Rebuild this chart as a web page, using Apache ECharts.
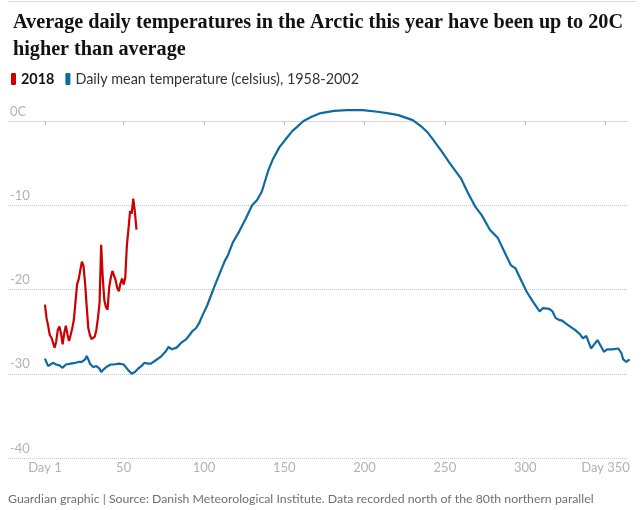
<!DOCTYPE html>
<html>
<head>
<meta charset="utf-8">
<script src="https://cdn.jsdelivr.net/npm/echarts@6/dist/echarts.min.js"></script>
<style>
  html, body { margin: 0; padding: 0; background: #fff; }
  #chart { width: 644px; height: 510px; }
</style>
</head>
<body>
<div id="chart"></div>
<script>
// 2018 daily temperatures (day 1 onwards)
var redTemps = [
    -21.8, -23.4, -24.3, -25.4, -25.7, -25.9, -26.9, -26.2, -24.8, -24.4,
    -25.2, -26.5, -25.2, -24.3, -25.3, -26.1, -25.4, -24.6, -23.6, -21.5,
    -19.4, -18.8, -17.7, -16.7, -17.2, -19.3, -22.0, -24.6, -25.4, -25.9,
    -26.1, -25.6, -24.8, -23.4, -21.6, -14.7, -18.6, -21.3, -22.1, -22.4,
    -19.7, -18.6, -17.8, -17.9, -18.9, -19.8, -20.2, -19.3, -18.7, -19.4,
    -18.6, -14.8, -12.8, -10.7, -11.0, -9.2, -10.8, -12.9
];

var blueDays = [
    1, 3, 6, 8, 10, 12, 14, 17, 20, 22, 24, 26, 27, 28, 29, 31, 33, 35, 36, 38,
    40, 42, 44, 47, 50, 53, 55, 57, 59, 61, 63, 65, 67, 70, 73, 76, 78, 80, 83, 86,
    89, 91, 93, 95, 97, 99, 102, 106, 110, 113, 115, 118, 122, 126, 130, 133, 136, 140, 143, 147,
    152, 155, 158, 162, 167, 172, 181, 189, 199, 208, 215, 221, 230, 235, 239, 243, 248, 253, 260, 264,
    269, 273, 278, 283, 288, 291, 294, 298, 301, 305, 309, 311, 315, 317, 319, 321, 323, 325, 328, 331,
    334, 336, 338, 341, 345, 349, 351, 354, 358, 360, 361, 363, 365
];
var blueTemps = [
    -28.2, -29.1, -28.7, -28.9, -29.0, -29.3, -28.9, -28.8, -28.7, -28.6, -28.6, -28.3, -27.9, -28.3, -28.8, -29.2, -29.1, -29.4, -29.8, -29.4,
    -29.1, -28.9, -28.9, -28.8, -28.9, -29.6, -30.0, -29.8, -29.4, -29.1, -28.7, -28.8, -28.8, -28.4, -28.0, -27.4, -26.8, -27.1, -26.9, -26.3,
    -25.9, -25.4, -24.9, -24.6, -24.0, -23.1, -21.9, -19.9, -18.0, -16.6, -15.9, -14.4, -13.1, -11.6, -10.0, -9.4, -8.4, -5.9, -4.5, -3.1,
    -1.9, -1.2, -0.7, 0.0, 0.5, 0.9, 1.2, 1.3, 1.3, 1.1, 0.9, 0.7, 0.1, -0.6, -1.3, -2.3, -3.6, -5.0, -6.8, -8.4,
    -10.2, -11.2, -12.9, -13.9, -15.9, -17.1, -17.5, -19.1, -20.3, -21.5, -22.6, -22.2, -22.3, -22.6, -23.4, -23.6, -23.7, -24.0, -24.4, -24.8,
    -25.3, -25.8, -25.5, -27.0, -26.0, -27.4, -27.1, -27.1, -27.0, -27.6, -28.3, -28.6, -28.3
];

var xTicks = [1, 50, 100, 150, 200, 250, 300, 350];

var redData = redTemps.map(function (v, i) { return [i + 1, v]; });
var blueData = blueDays.map(function (d, i) { return [d, blueTemps[i]]; });

var myChart = echarts.init(document.getElementById('chart'));
myChart.setOption({
    animation: false,
    backgroundColor: '#fff',
    title: {
        text: 'Average daily temperatures in the Arctic this year have been up to 20C\nhigher than average',
        left: 8,
        top: 4,
        textStyle: {
            fontFamily: 'Liberation Serif',
            fontWeight: 'bold',
            fontSize: 20.2,
            lineHeight: 27,
            color: '#121212',
        }
    },
    graphic: [{
        type: 'line',
        shape: { x1: 8, y1: 1.5, x2: 636, y2: 1.5 },
        style: { stroke: '#dcdcdc', lineWidth: 1 },
    }, {
        type: 'text',
        left: 8,
        top: 493,
        style: {
            text: 'Guardian graphic | Source: Danish Meteorological Institute. Data recorded north of the 80th northern parallel',
            fontFamily: 'Lato',
            fontSize: 12.3,
            fill: '#707070',
        }
    }],
    legend: {
        left: 6,
        top: 67,
        icon: 'roundRect',
        itemWidth: 5,
        itemHeight: 12,
        itemGap: 11,
        textStyle: {
            fontFamily: 'Lato',
            fontSize: 14.4,
            color: '#333',
            rich: {
                b: { fontFamily: 'Lato', fontSize: 14.4, fontWeight: 'bold', color: '#121212' }
            }
        },
        formatter: function (name) {
            return name === '2018' ? '{b|2018}' : name;
        },
        data: ['2018', 'Daily mean temperature (celsius), 1958-2002'],
    },
    grid: {
        left: 8,
        right: 16,
        top: 121,
        bottom: 52,
    },
    xAxis: {
        type: 'value',
        min: -22,
        max: 364,
        axisLine: { show: false },
        splitLine: { show: false },
        axisTick: {
            show: true,
            customValues: xTicks,
            length: 4,
            lineStyle: { color: '#bbb' },
        },
        axisLabel: {
            customValues: xTicks,
            margin: 3,
            fontFamily: 'Lato',
            fontSize: 13,
            color: '#b3b3b3',
            formatter: function (v) {
                return (v === 1 || v === 350) ? 'Day ' + v : String(v);
            }
        },
    },
    yAxis: {
        type: 'value',
        min: -40,
        max: 0,
        interval: 10,
        axisLine: { show: false },
        axisTick: { show: false },
        axisLabel: {
            inside: true,
            margin: 2,
            verticalAlign: 'bottom',
            padding: [0, 0, 3, 0],
            fontFamily: 'Lato',
            fontSize: 13,
            color: '#b3b3b3',
            formatter: function (v) {
                return v === 0 ? '0C' : String(v);
            }
        },
        splitLine: {
            show: true,
            lineStyle: { color: '#c8c8c8', type: 'dotted' },
        },
    },
    series: [{
        name: '2018',
        type: 'line',
        data: redData,
        symbol: 'none',
        clip: false,
        z: 2,
        itemStyle: { color: '#cc0000' },
        lineStyle: { color: '#cc0000', width: 2.2 },
        markLine: {
            silent: true,
            z: 1,
            symbol: 'none',
            label: { show: false },
            lineStyle: { color: '#d6d6d6', type: 'solid', width: 1 },
            data: [{ yAxis: 0 }],
        }
    }, {
        name: 'Daily mean temperature (celsius), 1958-2002',
        type: 'line',
        data: blueData,
        symbol: 'none',
        clip: false,
        z: 4,
        itemStyle: { color: '#0e6aa0' },
        lineStyle: { color: '#0e6aa0', width: 2.2 },
    }],
});
</script>
</body>
</html>
